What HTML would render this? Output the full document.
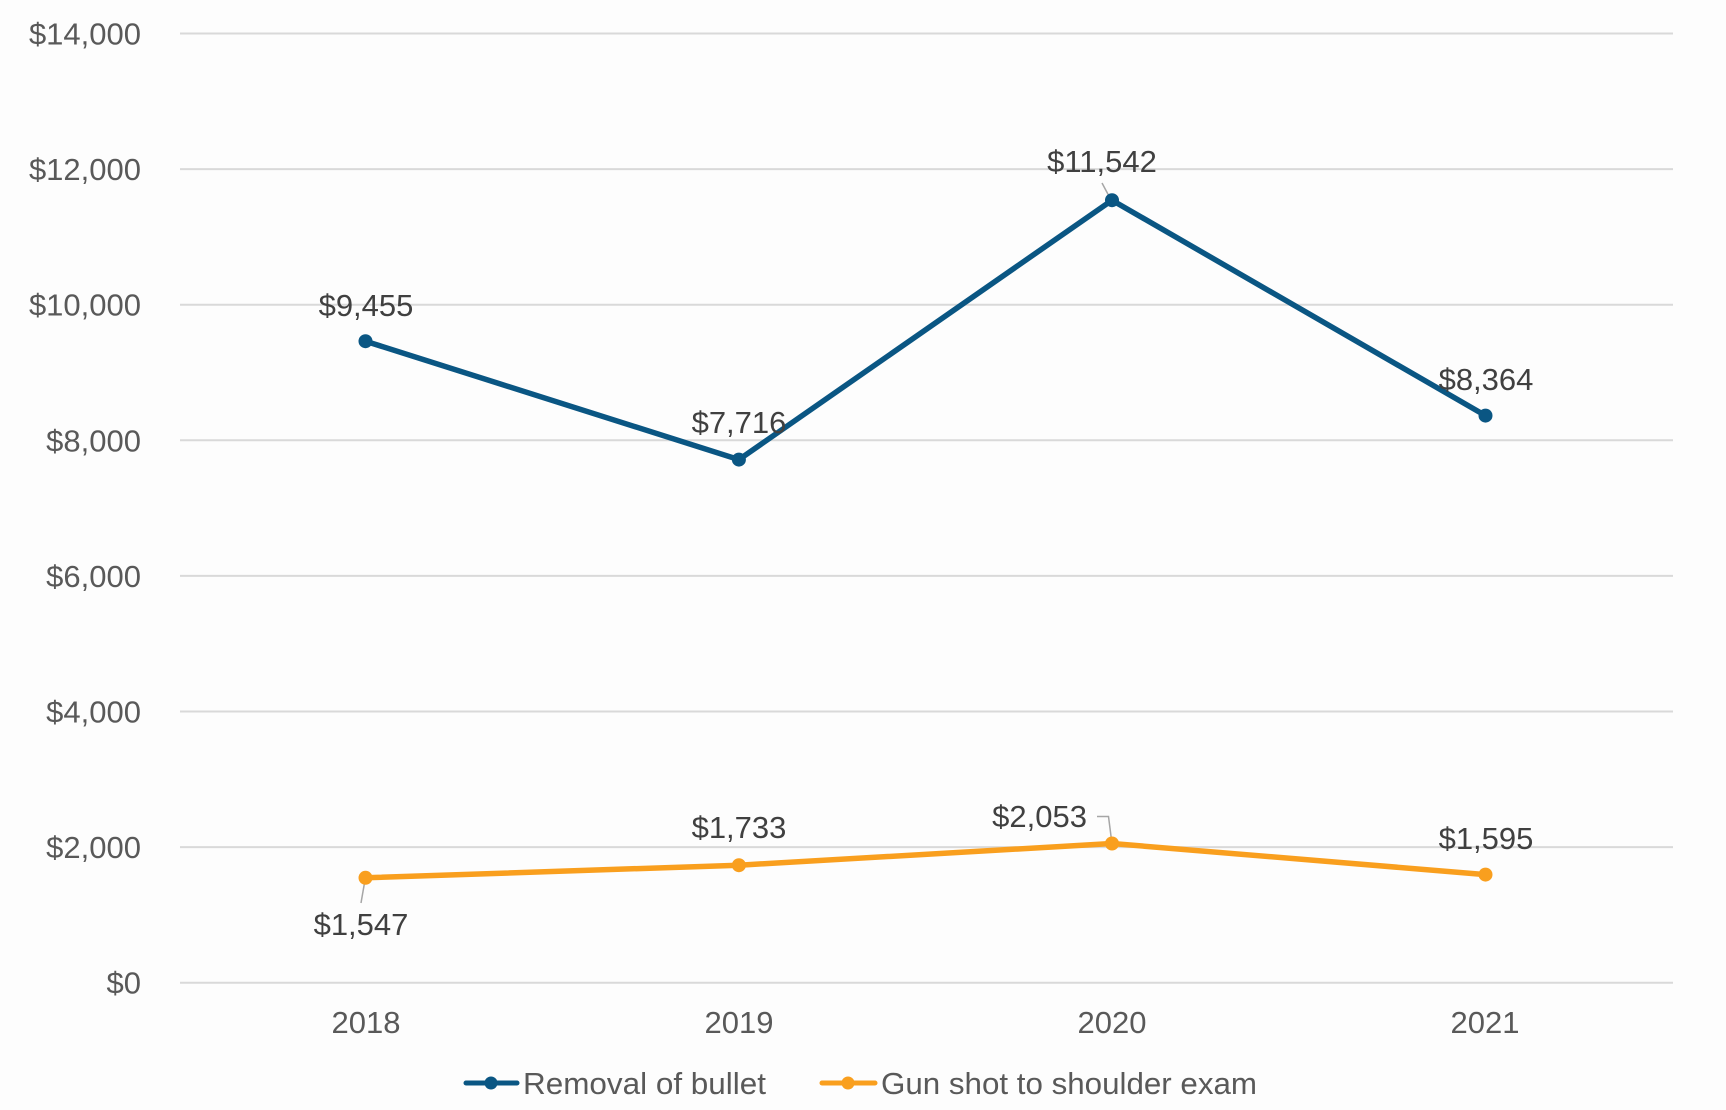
<!DOCTYPE html>
<html><head><meta charset="utf-8"><style>
html,body{margin:0;padding:0;background:#fdfdfd;}
svg{display:block;}
text{font-family:"Liberation Sans",Arial,sans-serif;}
</style></head><body>
<svg width="1726" height="1110" viewBox="0 0 1726 1110" xmlns="http://www.w3.org/2000/svg">
<rect width="1726" height="1110" fill="#fdfdfd"/>
<g stroke="#d9d9d9" stroke-width="2">
<line x1="180" y1="33.5" x2="1673" y2="33.5"/>
<line x1="180" y1="169.1" x2="1673" y2="169.1"/>
<line x1="180" y1="304.7" x2="1673" y2="304.7"/>
<line x1="180" y1="440.3" x2="1673" y2="440.3"/>
<line x1="180" y1="575.9" x2="1673" y2="575.9"/>
<line x1="180" y1="711.5" x2="1673" y2="711.5"/>
<line x1="180" y1="847.1" x2="1673" y2="847.1"/>
<line x1="180" y1="982.7" x2="1673" y2="982.7"/>
</g>
<g font-size="31" fill="#595959" text-anchor="end">
<text x="141" y="44.5">$14,000</text>
<text x="141" y="180.1">$12,000</text>
<text x="141" y="315.7">$10,000</text>
<text x="141" y="451.3">$8,000</text>
<text x="141" y="586.9">$6,000</text>
<text x="141" y="722.5">$4,000</text>
<text x="141" y="858.1">$2,000</text>
<text x="141" y="993.7">$0</text>
</g>
<g font-size="31" fill="#595959" text-anchor="middle">
<text x="366" y="1033">2018</text>
<text x="739" y="1033">2019</text>
<text x="1112" y="1033">2020</text>
<text x="1485" y="1033">2021</text>
</g>
<g stroke="#a6a6a6" stroke-width="1.5" fill="none">
<line x1="1102" y1="183" x2="1110" y2="198"/>
<polyline points="1097,816.5 1108.5,816.5 1111.5,840"/>
<line x1="365" y1="880" x2="361" y2="903"/>
</g>
<polyline points="365.5,341.2 738.9,459.6 1112,200.2 1485.5,415.6" fill="none" stroke="#0a5683" stroke-width="5.5" stroke-linejoin="round"/>
<g fill="#0a5683">
<circle cx="365.5" cy="341.2" r="7"/>
<circle cx="738.9" cy="459.6" r="7"/>
<circle cx="1112" cy="200.2" r="7"/>
<circle cx="1485.5" cy="415.6" r="7"/>
</g>
<polyline points="365.5,877.8 738.9,865.2 1112,843.5 1485.5,874.6" fill="none" stroke="#f99f1e" stroke-width="5.5" stroke-linejoin="round"/>
<g fill="#f99f1e">
<circle cx="365.5" cy="877.8" r="7"/>
<circle cx="738.9" cy="865.2" r="7"/>
<circle cx="1112" cy="843.5" r="7"/>
<circle cx="1485.5" cy="874.6" r="7"/>
</g>
<g font-size="31" fill="#404040" text-anchor="middle">
<text x="366" y="316">$9,455</text>
<text x="739" y="433">$7,716</text>
<text x="1102" y="172">$11,542</text>
<text x="1486" y="390">$8,364</text>
<text x="739" y="838">$1,733</text>
<text x="1486" y="849">$1,595</text>
<text x="361" y="935">$1,547</text>
</g>
<text x="1087" y="827" font-size="31" fill="#404040" text-anchor="end">$2,053</text>
<line x1="466" y1="1083" x2="517" y2="1083" stroke="#0a5683" stroke-width="5" stroke-linecap="round"/>
<circle cx="491" cy="1083" r="6.5" fill="#0a5683"/>
<text x="523" y="1094" font-size="31" fill="#595959" textLength="243" lengthAdjust="spacingAndGlyphs">Removal of bullet</text>
<line x1="822" y1="1083" x2="875" y2="1083" stroke="#f99f1e" stroke-width="5" stroke-linecap="round"/>
<circle cx="848" cy="1083" r="6.5" fill="#f99f1e"/>
<text x="881" y="1094" font-size="31" fill="#595959" textLength="376" lengthAdjust="spacingAndGlyphs">Gun shot to shoulder exam</text>
</svg>
</body></html>
